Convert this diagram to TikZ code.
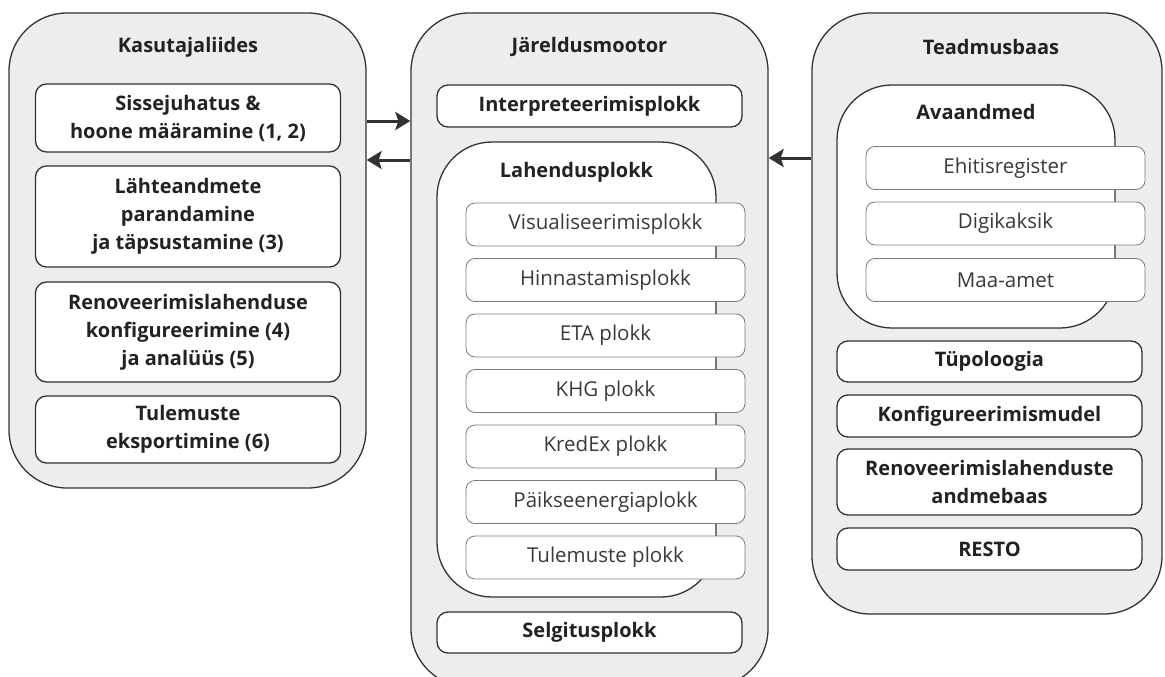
\documentclass[tikz,border=0pt]{standalone}
\usepackage{fontspec}
\setmainfont{Open Sans}
\usetikzlibrary{arrows.meta}
\definecolor{pane}{HTML}{EDEDED}
\definecolor{edge}{HTML}{333333}
\definecolor{thin}{HTML}{7A7A7A}
\definecolor{ink}{HTML}{222222}
\definecolor{softink}{HTML}{3A3A3A}
\begin{document}
\begin{tikzpicture}[x=1pt,y=-1pt,
	pane/.style={draw=edge,line width=1.3pt,fill=pane,rounded corners=58pt,inner sep=0pt},
	group/.style={draw=edge,line width=1.3pt,fill=white,rounded corners=55pt,inner sep=0pt},
	title/.style={text=ink,font=\fontsize{20}{28}\selectfont\bfseries},
	mainbox/.style={draw=edge,line width=1.3pt,fill=white,rounded corners=11pt,inner sep=0pt,
		minimum width=305pt,align=center,text=ink,font=\fontsize{20}{28}\selectfont\bfseries},
	subbox/.style={draw=thin,line width=0.8pt,fill=white,rounded corners=9pt,inner sep=0pt,
		minimum width=279pt,minimum height=43pt,text=softink,font=\fontsize{20.5}{28}\selectfont},
	arr/.style={draw=edge,line width=3pt,-{Stealth[length=15pt,width=18pt,inset=3pt]}}]
	\useasboundingbox (0,0) rectangle (1165,677);
	\node[pane,minimum width=357pt,minimum height=475pt](kl)at(187.5,250.5){};
	\node[pane,minimum width=357pt,minimum height=674pt](jm)at(589.5,350){};
	\node[pane,minimum width=350pt,minimum height=601pt](tb)at(987,313.5){};
	\node[title](klt)at(188,47){Kasutajaliides};
	\node[title](jmt)at(589.5,47){Järeldusmootor};
	\node[title](tbt)at(991,47){Teadmusbaas};
	\node[mainbox,minimum height=68pt](sis)at(188,118){Sissejuhatus \&\\hoone määramine (1, 2)};
	\node[mainbox,minimum height=101pt](lte)at(188,216.5){Lähteandmete\\parandamine\\ja täpsustamine (3)};
	\node[mainbox,minimum height=100pt](ren)at(188,332){Renoveerimislahenduse\\konfigureerimine (4)\\ja analüüs (5)};
	\node[mainbox,minimum height=67pt](tul)at(188,429.5){Tulemuste\\eksportimine (6)};
	\node[mainbox,minimum height=42pt](int)at(589.5,106){Interpreteerimisplokk};
	\node[group,minimum width=279pt,minimum height=455pt](lp)at(576.5,369.5){};
	\node[title](lpt)at(576.5,172){Lahendusplokk};
	\node[subbox](vis)at(605.5,224.5){Visualiseerimisplokk};
	\node[subbox](hin)at(605.5,280){Hinnastamisplokk};
	\node[subbox](eta)at(605.5,335.5){ETA plokk};
	\node[subbox](khg)at(605.5,391){KHG plokk};
	\node[subbox](kre)at(605.5,446.5){KredEx plokk};
	\node[subbox](pai)at(605.5,502){Päikseenergiaplokk};
	\node[subbox](tlp)at(605.5,557.5){Tulemuste plokk};
	\node[mainbox,minimum height=41pt](sel)at(589.5,632.5){Selgitusplokk};
	\node[group,minimum width=278pt,minimum height=243pt](av)at(976,206.5){};
	\node[title](avt)at(976,112){Avaandmed};
	\node[subbox](ehr)at(1005.5,168){Ehitisregister};
	\node[subbox](dig)at(1005.5,223.5){Digikaksik};
	\node[subbox](maa)at(1005.5,280){Maa-amet};
	\node[mainbox,minimum height=41pt](tup)at(989.5,361.5){Tüpoloogia};
	\node[mainbox,minimum height=42pt](kon)at(989.5,416){Konfigureerimismudel};
	\node[mainbox,minimum height=66pt](rnd)at(989.5,482){Renoveerimislahenduste\\andmebaas};
	\node[mainbox,minimum height=42pt](res)at(989.5,549){RESTO};
	\draw[arr](kl.east|-0,121)--(jm.west|-0,121);
	\draw[arr](jm.west|-0,160)--(kl.east|-0,160);
	\draw[arr](tb.west|-0,158)--(jm.east|-0,158);
\end{tikzpicture}
\end{document}
